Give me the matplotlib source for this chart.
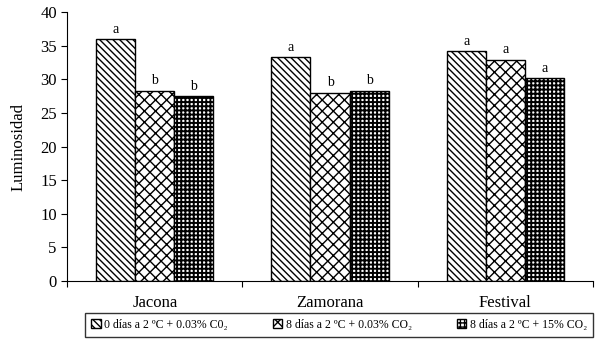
import numpy as np
import matplotlib
matplotlib.use("Agg")
import matplotlib.pyplot as plt

plt.rcParams['font.family'] = ['Liberation Serif', 'DejaVu Serif']
plt.rcParams['hatch.linewidth'] = 1.0

cultivares = ["Jacona", "Zamorana", "Festival"]
series = ["0 días a 2 ºC + 0.03% C0\u2082",
          "8 días a 2 ºC + 0.03% CO\u2082",
          "8 días a 2 ºC + 15% CO\u2082"]
valores = [[36.0, 33.3, 34.2],
           [28.3, 28.0, 32.9],
           [27.5, 28.3, 30.2]]
letras = [["a", "a", "a"],
          ["b", "b", "a"],
          ["b", "b", "a"]]
hatches = ['\\\\\\\\\\', 'xxx', '++++']
hatch_lw = [1.0, 1.0, 1.4]

fig = plt.figure(figsize=(6, 3.42), dpi=100)
ax = fig.add_axes([0.112, 0.178, 0.876, 0.787])

x = np.arange(len(cultivares))
w = 0.223
for i in range(3):
    pos = x + (i - 1) * w
    bars = ax.bar(pos, valores[i], w, facecolor='white', edgecolor='black',
                  hatch=hatches[i], linewidth=1.0, label=series[i])
    for b in bars:
        if hasattr(b, 'set_hatch_linewidth'):
            b.set_hatch_linewidth(hatch_lw[i])
    for p, v, l in zip(pos, valores[i], letras[i]):
        ax.text(p, v + 0.5, l, ha='center', va='bottom', fontsize=10)

ax.set_xlim(-0.5, 2.5)
ax.set_ylim(0, 40)
ax.set_yticks(range(0, 41, 5))
ax.tick_params(axis='y', labelsize=12, direction='out', length=4)
ax.set_xticks([-0.5, 0.5, 1.5, 2.5])
ax.set_xticklabels([])
ax.set_xticks(x, minor=True)
ax.set_xticklabels(cultivares, minor=True, fontsize=12)
ax.tick_params(axis='x', which='minor', length=0, pad=10)
ax.tick_params(axis='x', which='major', direction='out', length=4)
ax.spines['top'].set_visible(False)
ax.spines['right'].set_visible(False)
ax.set_ylabel("Luminosidad", fontsize=12, labelpad=10)

leg = fig.legend(loc='center', bbox_to_anchor=(0.565, 0.05), ncol=3,
                 fontsize=8.5, frameon=True, fancybox=False, edgecolor='black',
                 handlelength=0.8, handleheight=0.8, handletextpad=0.3,
                 columnspacing=3.8, borderpad=0.5)
leg.get_frame().set_linewidth(1.0)

fig.savefig("out.png", dpi=100)
